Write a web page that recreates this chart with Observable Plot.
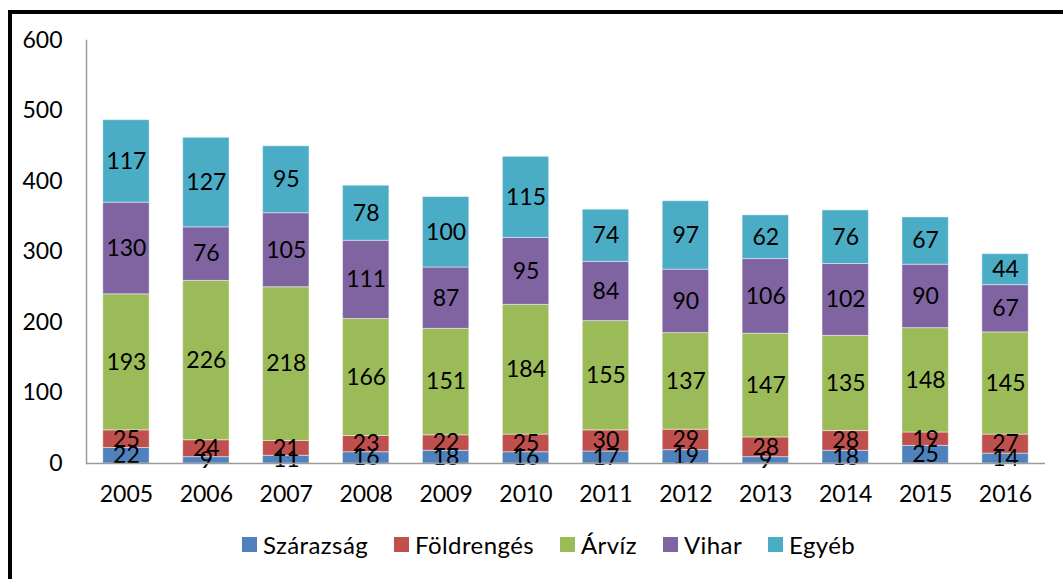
<!DOCTYPE html>
<html>
<head>
<meta charset="utf-8">
<script src="https://cdn.jsdelivr.net/npm/d3@7"></script>
<script src="https://cdn.jsdelivr.net/npm/@observablehq/plot@0.6"></script>
<style>
  html, body { margin: 0; padding: 0; background: #fff; }
  #wrap { position: relative; width: 1063px; height: 579px; overflow: hidden; font-family: Lato, "Open Sans", sans-serif; }
  #frame { position: absolute; left: 8px; top: 10px; width: 1100px; height: 600px; border-left: 4px solid #000; border-top: 4px solid #000; box-sizing: border-box; }
  #chart { position: absolute; left: 0; top: 0; }
  #legend { position: absolute; left: 242px; top: 530px; display: flex; align-items: center; font-size: 24px; letter-spacing: 0.4px; color: #000; white-space: nowrap; }
  .item { display: flex; align-items: center; margin-right: 26px; }
  .sw { width: 15px; height: 15px; margin-right: 6px; }
</style>
</head>
<body>
<div id="wrap">
  <div id="chart"></div>
  <div id="frame"></div>
  <div id="legend"></div>
</div>
<script>
const years = ["2005","2006","2007","2008","2009","2010","2011","2012","2013","2014","2015","2016"];
const seriesNames = ["Szárazság","Földrengés","Árvíz","Vihar","Egyéb"];
const colors = ["#4F81BD","#C0504D","#9BBB59","#8064A2","#4BACC6"];
const szarazsag = [22,9,11,16,18,16,17,19,9,18,25,14];
const foldrenges = [25,24,21,23,22,25,30,29,28,28,19,27];
const arviz = [193,226,218,166,151,184,155,137,147,135,148,145];
const vihar = [130,76,105,111,87,95,84,90,106,102,90,67];
const egyeb = [117,127,95,78,100,115,74,97,62,76,67,44];
const yTicks = [0,100,200,300,400,500,600];

const seriesValues = [szarazsag, foldrenges, arviz, vihar, egyeb];
const data = [];
seriesNames.forEach((s, i) => {
  years.forEach((y, j) => data.push({year: y, series: s, value: seriesValues[i][j]}));
});

const font = "Lato, 'Open Sans', sans-serif";
const chart = Plot.plot({
  width: 1063,
  height: 520,
  marginLeft: 86,
  marginRight: 18,
  marginTop: 40,
  marginBottom: 57,
  style: {fontFamily: font, fontSize: "23px", color: "#000", background: "transparent"},
  x: {domain: years, paddingInner: 0.42, paddingOuter: 0.21, round: false, label: null},
  y: {domain: [0, 600], label: null},
  color: {domain: seriesNames, range: colors},
  marks: [
    Plot.barY(data, Plot.stackY({x: "year", y: "value", z: "series", fill: "series", order: seriesNames, stroke: "#ffffff", strokeOpacity: 0.45, strokeWidth: 1})),
    Plot.text(data, Plot.stackY({x: "year", y: "value", z: "series", order: seriesNames, text: d => String(d.value), fill: "#000", fontSize: 23})),
    Plot.frame({anchor: "left", stroke: "#9a9a9a", strokeWidth: 1.5}),
    Plot.ruleY([0], {stroke: "#9a9a9a", strokeWidth: 1.5}),
    Plot.axisY({ticks: yTicks, tickSize: 0, tickPadding: 24, label: null, fontSize: 23}),
    Plot.axisX({tickSize: 0, tickPadding: 22, label: null, fontSize: 23})
  ]
});
document.getElementById("chart").appendChild(chart);

const legend = document.getElementById("legend");
seriesNames.forEach((s, i) => {
  const it = document.createElement("div");
  it.className = "item";
  const sw = document.createElement("div");
  sw.className = "sw";
  sw.style.background = colors[i];
  const t = document.createElement("span");
  t.textContent = s;
  it.appendChild(sw);
  it.appendChild(t);
  legend.appendChild(it);
});
</script>
</body>
</html>
